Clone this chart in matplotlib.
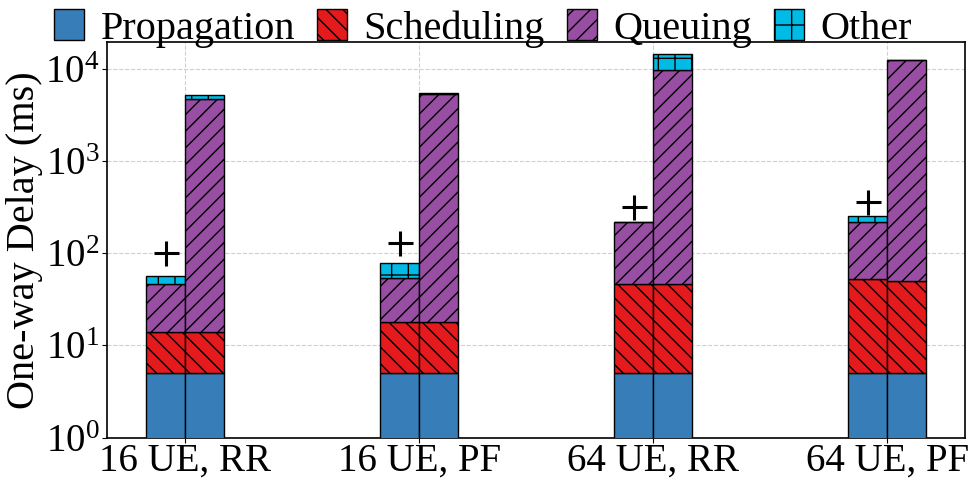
import numpy as np
import matplotlib.pyplot as plt

plt.rcParams['font.family'] = ['Liberation Serif', 'DejaVu Serif']
plt.rcParams['mathtext.fontset'] = 'stix'
plt.rcParams['hatch.linewidth'] = 1.0

groups = ['16 UE, RR', '16 UE, PF', '64 UE, RR', '64 UE, PF']
# left bar of each group (with "+"), right bar
prop_l = [5, 5, 5, 5]
sched_l = [9, 13, 41, 47]
queue_l = [32, 36, 171, 165]
other_l = [11, 25, 0, 34]
prop_r = [5, 5, 5, 5]
sched_r = [9, 13, 41, 45]
queue_r = [4726, 5280, 9730, 12250]
other_r = [500, 220, 4700, 0]
plus_y = [100, 128, 314, 355]

labels = ['Propagation', 'Scheduling', 'Queuing', 'Other']
colors = ['#377eb8', '#e41a1c', '#984ea3', '#00bbe6']
hatches = ['', '\\\\', '//', '+']

fig, ax = plt.subplots(figsize=(9.76, 4.82), dpi=100)
x = np.arange(len(groups))
w = 1 / 6

for off, parts in [(-w / 2, [prop_l, sched_l, queue_l, other_l]),
                   (w / 2, [prop_r, sched_r, queue_r, other_r])]:
    bottom = np.zeros(len(groups))
    for i, vals in enumerate(parts):
        vals = np.array(vals, dtype=float)
        ax.bar(x + off, vals, w, bottom=bottom, color=colors[i], hatch=hatches[i],
               edgecolor='black', linewidth=1.0,
               label=labels[i] if off > 0 else None, zorder=3)
        bottom += vals

ax.plot(x - w / 2, plus_y, '+', color='black', markersize=18, mew=2.2, zorder=4)

ax.set_yscale('log')
ax.set_ylim(1, 1.95e4)
ax.set_xlim(-1 / 3, 3 + 1 / 3)
ax.set_xticks(x)
ax.set_xticklabels(groups)
ax.tick_params(axis='both', labelsize=28, direction='out', pad=2)
ax.tick_params(axis='x', pad=0)
ax.tick_params(axis='y', which='minor', left=False)
ax.set_ylabel('One-way Delay (ms)', fontsize=29, labelpad=2)
ax.grid(True, linestyle='--', color='#d0d0d0', linewidth=0.8, zorder=0)
ax.set_axisbelow(True)
for s in ax.spines.values():
    s.set_linewidth(1.2)

ax.legend(loc='lower center', bbox_to_anchor=(0.438, 0.985), ncol=4, frameon=False,
          fontsize=29, handlelength=0.75, handleheight=0.8, handletextpad=0.4,
          columnspacing=0.55, borderaxespad=0, borderpad=0)

fig.subplots_adjust(left=0.11, right=0.989, top=0.913, bottom=0.092)
fig.savefig('out.png', dpi=100)
